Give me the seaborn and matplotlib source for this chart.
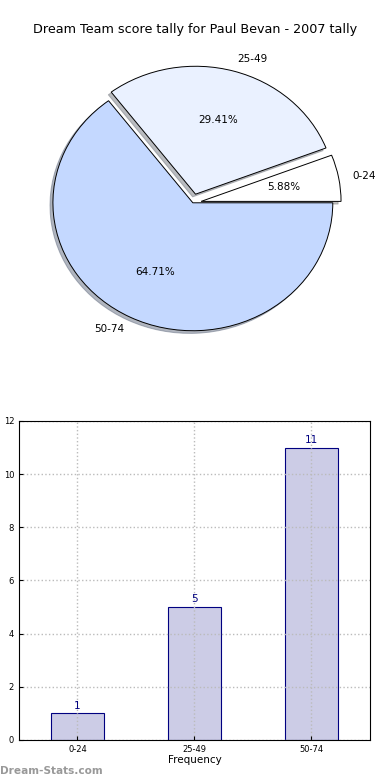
import numpy as np
import pandas as pd
import matplotlib
matplotlib.use("Agg")
import matplotlib.pyplot as plt
import seaborn as sns

sns.set_style("white")
plt.rcParams['font.family'] = ['DejaVu Sans']
plt.rcParams['text.color'] = 'black'
plt.rcParams['xtick.color'] = 'black'
plt.rcParams['ytick.color'] = 'black'
plt.rcParams['axes.labelcolor'] = 'black'

# data
bands = ['0-24', '25-49', '50-74']
counts = [1, 5, 11]
pie_colors = ['#FFFFFF', '#EAF1FF', '#C4D8FF']
explode = [0.06, 0.07, 0]

fig = plt.figure(figsize=(3.9, 7.8), dpi=100)

# pie chart
ax1 = fig.add_axes([0.046, 0.535, 0.897, 0.41])
wedges, texts, autotexts = ax1.pie(counts, labels=bands, colors=pie_colors, explode=explode,
                                   autopct='%1.2f%%', startangle=0,
                                   shadow={'ox': -0.015, 'oy': -0.015, 'shade': 0.5},
                                   wedgeprops=dict(edgecolor='black', linewidth=0.7),
                                   textprops=dict(fontsize=7.5, color='black'))
ax1.set_aspect('auto')
ax1.set_xlim(-1.25, 1.25)
ax1.set_ylim(-1.25, 1.25)
fig.text(0.5, 0.962, 'Dream Team score tally for Paul Bevan - 2007 tally',
         ha='center', va='center', fontsize=9.2)

# bar chart
ax2 = fig.add_axes([0.0487, 0.0513, 0.9, 0.409])
df = pd.DataFrame({'band': bands, 'count': counts})
sns.barplot(data=df, x='band', y='count', color='#CCCCE6', edgecolor='navy',
            linewidth=0.8, width=0.45, saturation=1, ax=ax2)
ax2.set_xlim(-0.5, 2.5)
ax2.set_ylim(0, 12)
ax2.set_yticks(range(0, 13, 2))
ax2.grid(True, linestyle=':', color='#BBBBBB', linewidth=1.0)
ax2.set_axisbelow(False)
for i, v in enumerate(counts):
    ax2.text(i, v + 0.1, str(v), ha='center', va='bottom', color='navy', fontsize=7.5)
ax2.tick_params(labelsize=6, direction='in', length=3, left=True, bottom=True)
ax2.set_xlabel('Frequency', fontsize=7.5, labelpad=1)
ax2.set_ylabel('Score Tally', fontsize=7.5)
ax2.yaxis.set_label_coords(-0.07, 0.5)
for s in ax2.spines.values():
    s.set_color('black')
    s.set_linewidth(0.8)
    s.set_zorder(5)

fig.text(0.0, 0.012, 'Dream-Stats.com', ha='left', va='center', fontsize=7.6,
         color='#999999', fontweight='bold')

fig.savefig('out.png', dpi=100)
